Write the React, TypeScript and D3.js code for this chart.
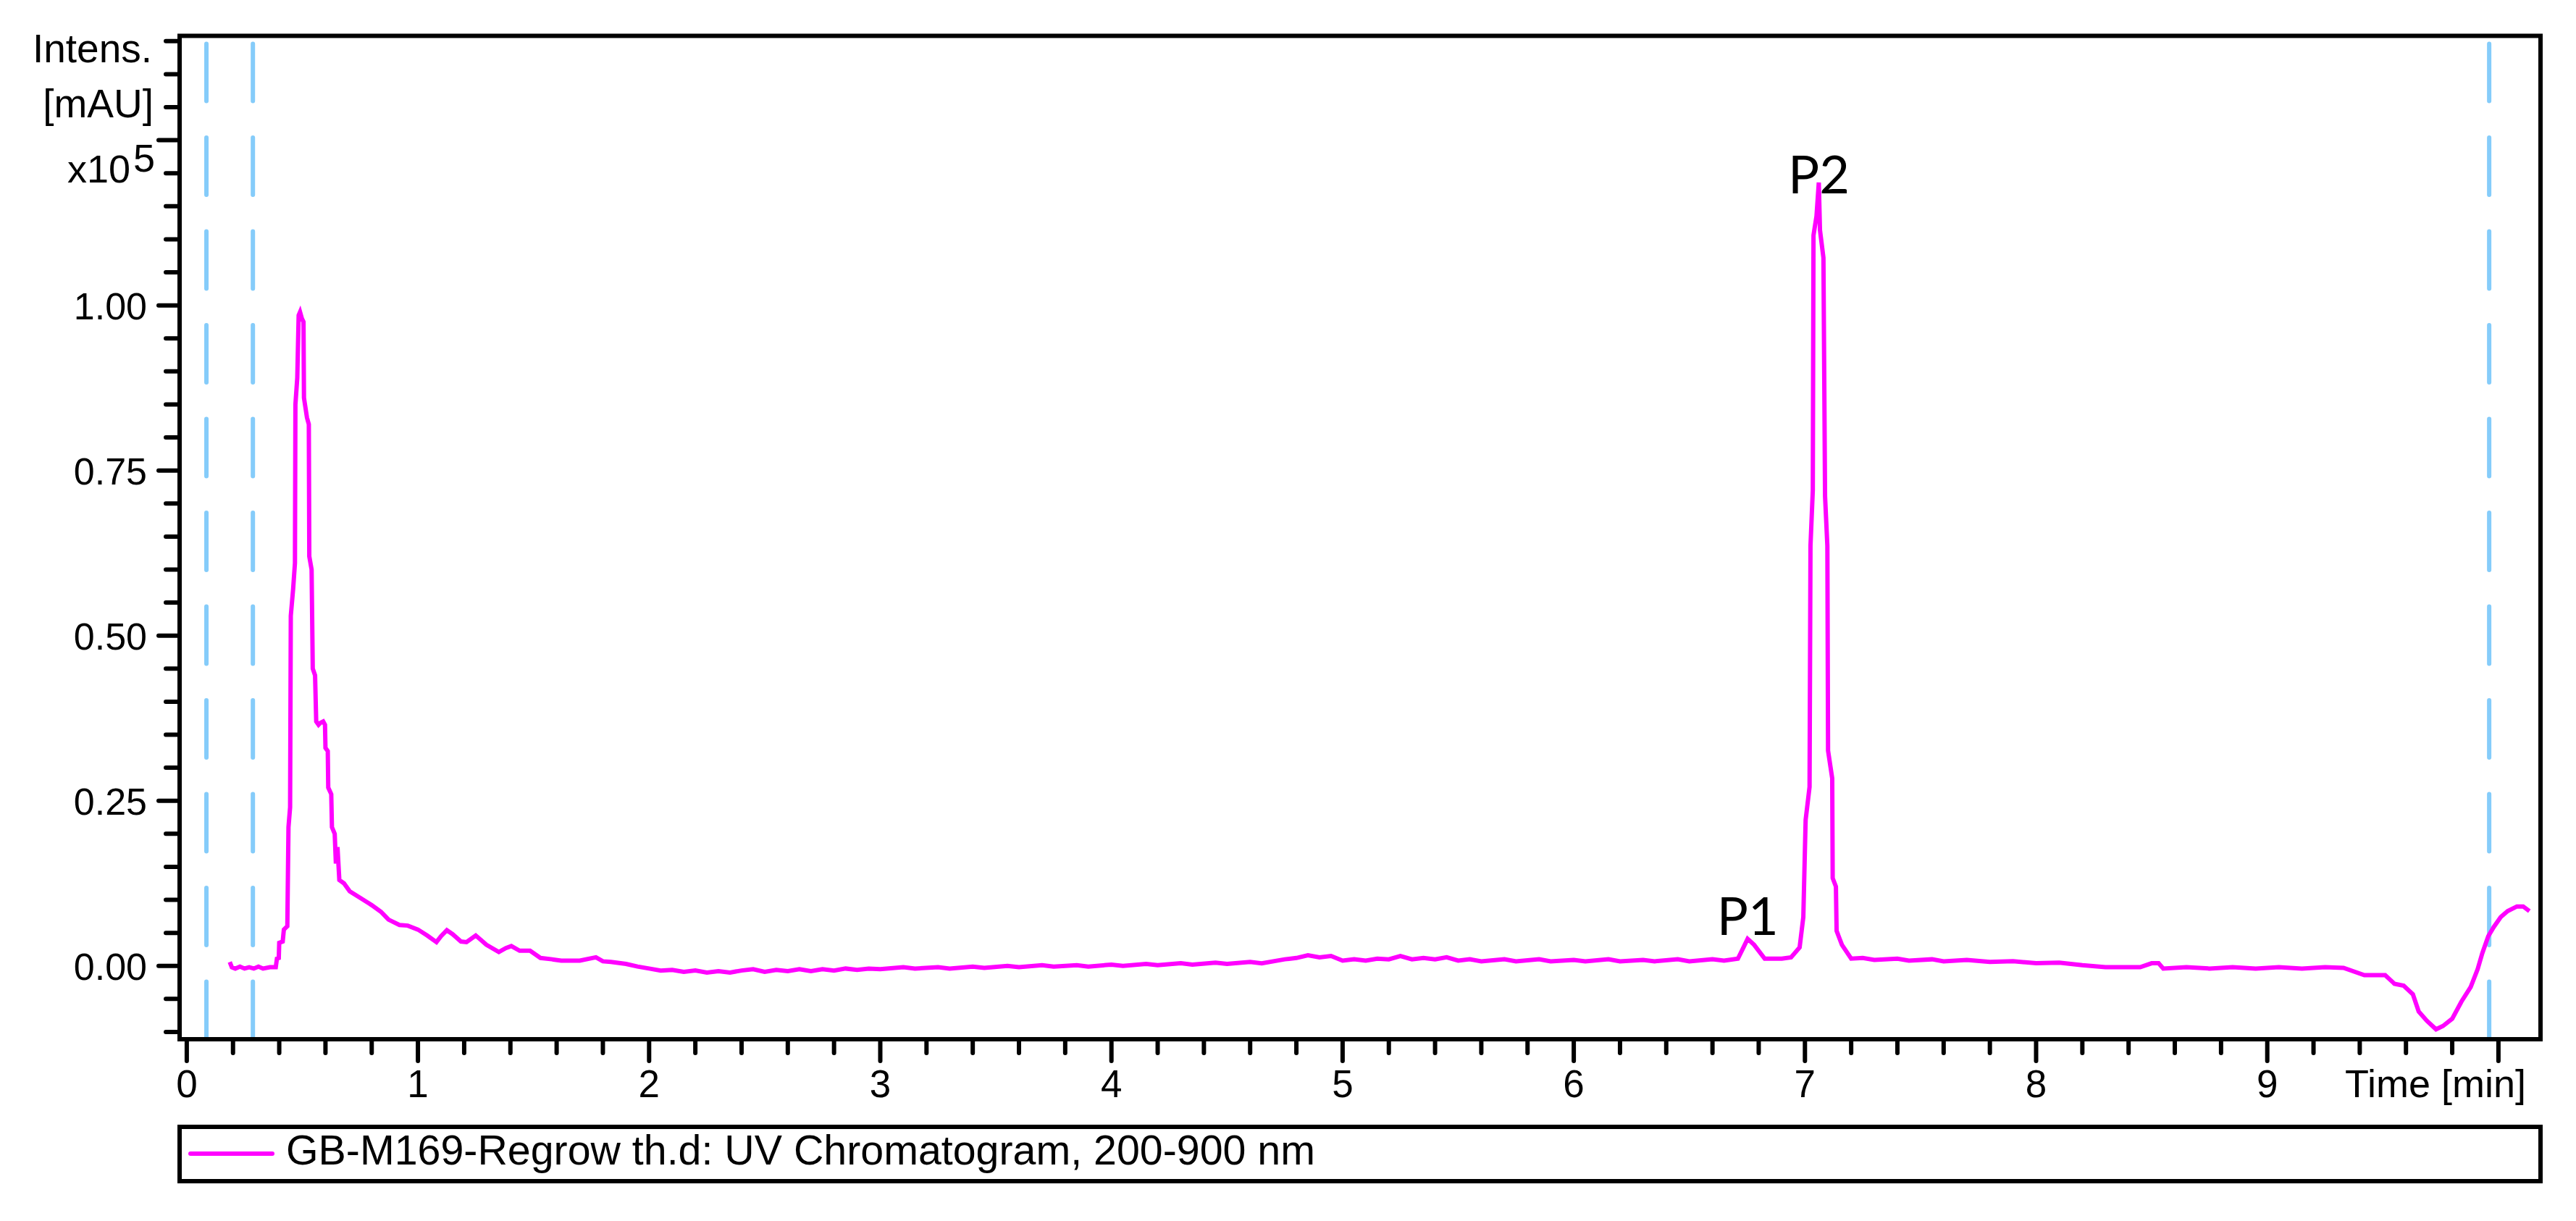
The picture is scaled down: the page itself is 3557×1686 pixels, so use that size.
import React from "react";
import * as d3 from "d3";

// UV chromatogram trace: [time (min), intensity (x10^5 mAU)]
const chromatogram: [number, number][] = [
  [0.186, 0.006], [0.195, -0.002], [0.21, -0.004], [0.23, -0.001], [0.25, -0.004],
  [0.27, -0.002], [0.29, -0.004], [0.31, -0.001], [0.33, -0.004], [0.36, -0.002],
  [0.385, -0.002], [0.39, 0.011], [0.398, 0.012], [0.4, 0.035], [0.415, 0.037],
  [0.42, 0.055], [0.435, 0.06], [0.44, 0.21], [0.447, 0.24], [0.45, 0.53],
  [0.46, 0.57], [0.468, 0.61], [0.47, 0.85], [0.478, 0.89], [0.484, 0.985],
  [0.49, 0.99], [0.498, 0.98], [0.505, 0.975], [0.507, 0.86], [0.52, 0.83],
  [0.528, 0.82], [0.53, 0.62], [0.54, 0.6], [0.545, 0.45], [0.555, 0.44],
  [0.56, 0.37], [0.57, 0.365], [0.578, 0.368], [0.59, 0.37], [0.598, 0.365],
  [0.6, 0.33], [0.61, 0.325], [0.612, 0.27], [0.625, 0.26], [0.628, 0.21],
  [0.64, 0.2], [0.645, 0.155], [0.652, 0.18], [0.66, 0.13], [0.68, 0.125],
  [0.705, 0.113], [0.75, 0.103], [0.8, 0.092], [0.84, 0.082], [0.873, 0.07],
  [0.92, 0.062], [0.956, 0.061], [1.0, 0.055], [1.04, 0.046], [1.08, 0.036],
  [1.1, 0.045], [1.125, 0.054], [1.15, 0.048], [1.186, 0.037], [1.21, 0.036],
  [1.25, 0.046], [1.27, 0.04], [1.296, 0.032], [1.35, 0.021], [1.38, 0.027],
  [1.404, 0.03], [1.44, 0.023], [1.485, 0.023], [1.53, 0.012], [1.58, 0.01],
  [1.62, 0.008], [1.7, 0.008], [1.77, 0.013], [1.8, 0.007], [1.835, 0.006],
  [1.9, 0.003], [1.95, -0.001], [2.0, -0.004], [2.05, -0.007], [2.1, -0.006],
  [2.15, -0.009], [2.2, -0.007], [2.25, -0.01], [2.3, -0.008], [2.35, -0.01],
  [2.4, -0.007], [2.45, -0.005], [2.5, -0.009], [2.55, -0.006], [2.6, -0.008],
  [2.65, -0.005], [2.7, -0.008], [2.75, -0.005], [2.8, -0.007], [2.85, -0.004],
  [2.9, -0.006], [2.95, -0.004], [3.0, -0.005], [3.1, -0.002], [3.15, -0.004],
  [3.25, -0.002], [3.3, -0.004], [3.4, -0.001], [3.45, -0.003], [3.55, 0.0],
  [3.6, -0.002], [3.7, 0.001], [3.75, -0.001], [3.85, 0.001], [3.9, -0.001],
  [4.0, 0.002], [4.05, 0.0], [4.15, 0.003], [4.2, 0.001], [4.3, 0.004],
  [4.35, 0.002], [4.45, 0.005], [4.5, 0.003], [4.6, 0.006], [4.65, 0.004],
  [4.75, 0.01], [4.8, 0.012], [4.85, 0.016], [4.9, 0.013], [4.95, 0.015],
  [5.0, 0.008], [5.05, 0.01], [5.1, 0.008], [5.15, 0.011], [5.2, 0.01],
  [5.25, 0.015], [5.3, 0.01], [5.35, 0.012], [5.4, 0.01], [5.45, 0.013],
  [5.5, 0.008], [5.55, 0.01], [5.6, 0.007], [5.7, 0.01], [5.75, 0.007],
  [5.85, 0.01], [5.9, 0.007], [6.0, 0.009], [6.05, 0.007], [6.15, 0.01],
  [6.2, 0.007], [6.3, 0.009], [6.35, 0.007], [6.45, 0.01], [6.5, 0.007],
  [6.6, 0.01], [6.65, 0.008], [6.71, 0.011], [6.73, 0.025], [6.752, 0.041],
  [6.78, 0.032], [6.826, 0.011], [6.9, 0.011], [6.94, 0.013], [6.977, 0.028],
  [6.993, 0.074], [7.003, 0.221], [7.02, 0.271], [7.024, 0.636], [7.034, 0.72],
  [7.037, 1.106], [7.05, 1.135], [7.06, 1.186], [7.065, 1.114], [7.08, 1.072],
  [7.087, 0.711], [7.097, 0.636], [7.1, 0.326], [7.118, 0.284], [7.12, 0.133],
  [7.134, 0.12], [7.137, 0.053], [7.16, 0.032], [7.2, 0.011], [7.25, 0.012],
  [7.3, 0.009], [7.4, 0.011], [7.45, 0.008], [7.55, 0.01], [7.6, 0.007],
  [7.7, 0.009], [7.8, 0.006], [7.9, 0.007], [8.0, 0.004], [8.1, 0.005],
  [8.2, 0.001], [8.3, -0.002], [8.45, -0.002], [8.5, 0.004], [8.53, 0.004],
  [8.55, -0.004], [8.65, -0.002], [8.75, -0.004], [8.85, -0.002], [8.95, -0.004],
  [9.05, -0.002], [9.15, -0.004], [9.25, -0.002], [9.33, -0.003], [9.42, -0.014],
  [9.51, -0.014], [9.55, -0.027], [9.59, -0.03], [9.63, -0.043], [9.655, -0.069],
  [9.69, -0.083], [9.73, -0.096], [9.76, -0.091], [9.8, -0.08], [9.84, -0.054],
  [9.88, -0.032], [9.91, -0.005], [9.93, 0.019], [9.956, 0.045], [9.98, 0.059],
  [10.01, 0.074], [10.04, 0.083], [10.08, 0.09], [10.107, 0.09], [10.134, 0.083],
];

// dashed marker lines (min)
const markerTimes = [0.085, 0.286, 9.96];

// peak annotations: label text, time, intensity of the label baseline
const peakNames = ["P1", "P2"];
const peakTimes = [6.752, 7.06];
const peakLabelLevels = [0.047, 1.17];

const yMajorTicks = [0, 0.25, 0.5, 0.75, 1.0, 1.25];
const yTickLabels = ["0.00", "0.25", "0.50", "0.75", "1.00"];
const xMajorTicks = [0, 1, 2, 3, 4, 5, 6, 7, 8, 9, 10];
const xTickLabels = ["0", "1", "2", "3", "4", "5", "6", "7", "8", "9"];

const legendText = "GB-M169-Regrow th.d: UV Chromatogram, 200-900 nm";

const W = 3557;
const H = 1686;
const font = "'Liberation Sans', Arial, sans-serif";

const App = () => {
  const x = d3.scaleLinear().domain([-0.031, 10.182]).range([248, 3508]);
  const y = d3.scaleLinear().domain([-0.111, 1.408]).range([1435, 49.5]);

  const line = d3
    .line<[number, number]>()
    .x((d) => x(d[0]))
    .y((d) => y(d[1]));

  const yMinor = d3.range(-0.1, 1.4001, 0.05).filter((v) => !yMajorTicks.some((m) => Math.abs(m - v) < 1e-6));
  const xMinor = d3.range(0, 10.001, 0.2).filter((v) => !xMajorTicks.some((m) => Math.abs(m - v) < 1e-6));

  const [x0, x1] = x.range();
  const [y0, y1] = y.range();

  return (
    <svg width={W} height={H} style={{ position: "absolute", left: 0, top: 0, background: "#fff" }}>
      <rect width={W} height={H} fill="#fff" />

      {/* marker lines */}
      {markerTimes.map((t, i) => (
        <line
          key={"m" + i}
          x1={x(t)}
          x2={x(t)}
          y1={y1 + 11}
          y2={y0}
          stroke="#85CCFA"
          strokeWidth={6}
          strokeDasharray="79 50.5"
          strokeLinecap="round"
        />
      ))}

      {/* trace */}
      <path d={line(chromatogram) ?? ""} fill="none" stroke="#FF00FF" strokeWidth={6} strokeLinejoin="miter" />

      {/* frame */}
      <rect x={x0} y={y1} width={x1 - x0} height={y0 - y1} fill="none" stroke="#000" strokeWidth={6} />

      {/* y ticks */}
      {yMinor.map((v, i) => (
        <line key={"ym" + i} x1={x0 - 19} x2={x0} y1={y(v)} y2={y(v)} stroke="#000" strokeWidth={6} strokeLinecap="round" />
      ))}
      {yMajorTicks.map((v, i) => (
        <line key={"yM" + i} x1={x0 - 29} x2={x0} y1={y(v)} y2={y(v)} stroke="#000" strokeWidth={6} strokeLinecap="round" />
      ))}
      {yTickLabels.map((s, i) => (
        <text key={"yl" + i} x={203} y={y(yMajorTicks[i]) + 19} fontFamily={font} fontSize={52} textAnchor="end">
          {s}
        </text>
      ))}

      {/* x ticks */}
      {xMinor.map((t, i) => (
        <line key={"xm" + i} x1={x(t)} x2={x(t)} y1={y0} y2={y0 + 19} stroke="#000" strokeWidth={6} strokeLinecap="round" />
      ))}
      {xMajorTicks.map((t, i) => (
        <line key={"xM" + i} x1={x(t)} x2={x(t)} y1={y0} y2={y0 + 30} stroke="#000" strokeWidth={6} strokeLinecap="round" />
      ))}
      {xTickLabels.map((s, i) => (
        <text key={"xl" + i} x={x(xMajorTicks[i])} y={1515} fontFamily={font} fontSize={53} textAnchor="middle">
          {s}
        </text>
      ))}
      <text x={3238} y={1515} fontFamily={font} fontSize={54}>
        Time [min]
      </text>

      {/* y axis title */}
      <text x={210} y={86} fontFamily={font} fontSize={55} textAnchor="end">
        Intens.
      </text>
      <text x={212} y={162} fontFamily={font} fontSize={55} textAnchor="end">
        [mAU]
      </text>
      <text x={180} y={252} fontFamily={font} fontSize={54} textAnchor="end">
        x10
      </text>
      <text x={184} y={237} fontFamily={font} fontSize={54}>
        5
      </text>

      {/* peak labels */}
      {peakNames.map((n, i) => (
        <text
          key={"p" + i}
          x={x(peakTimes[i])}
          y={y(peakLabelLevels[i])}
          fontFamily="Lato, 'Open Sans', sans-serif"
          fontSize={72}
          textAnchor="middle"
        >
          {n}
        </text>
      ))}

      {/* legend */}
      <rect x={x0} y={1556} width={x1 - x0} height={75} fill="none" stroke="#000" strokeWidth={6} />
      <line x1={263} x2={376} y1={1593} y2={1593} stroke="#FF00FF" strokeWidth={6} strokeLinecap="round" />
      <text
        x={395}
        y={1608}
        fontFamily="'Liberation Sans Narrow', 'Liberation Sans', Arial, sans-serif"
        fontSize={57}
        textLength={1421}
        lengthAdjust="spacingAndGlyphs"
      >
        {legendText}
      </text>
    </svg>
  );
};

export default App;
